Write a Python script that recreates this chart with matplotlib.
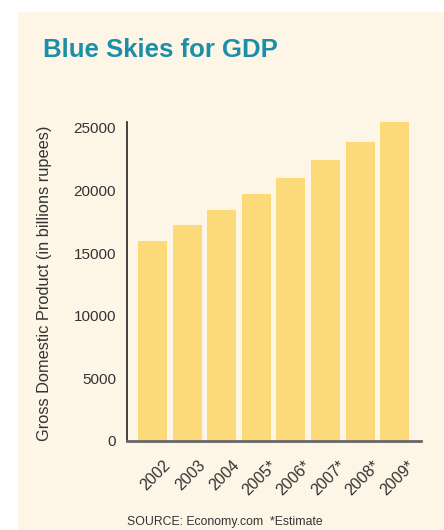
import matplotlib
matplotlib.use('Agg')
import matplotlib.pyplot as plt
from matplotlib.patches import Rectangle
from matplotlib.transforms import ScaledTranslation

plt.rcParams['font.family'] = ['Liberation Sans', 'DejaVu Sans']

# ========== 数据 ==========
years = ['2002', '2003', '2004', '2005*', '2006*', '2007*', '2008*', '2009*']
gdp = [15950, 17250, 18450, 19750, 21000, 22450, 23900, 25450]
yticks = [0, 5000, 10000, 15000, 20000, 25000]
# ==========================

W, H = 444, 530
fig = plt.figure(figsize=(W / 100, H / 100), dpi=100)
fig.patch.set_facecolor('white')

bg = '#FDF6E6'
fig.patches.append(Rectangle((18 / W, 0), 1 - 18 / W, 1 - 12 / H,
                             transform=fig.transFigure, facecolor=bg,
                             edgecolor='none', zorder=-10))

ax = fig.add_axes([127 / W, 1 - 441 / H, (421 - 127) / W, (441 - 121.5) / H])
ax.set_facecolor('none')

x = list(range(len(years)))
ax.bar(x, gdp, width=0.84, color='#FCD979', edgecolor='none')

ax.set_xlim(-0.74, 7.76)
ax.set_ylim(0, 25500)
ax.set_yticks(yticks)
ax.set_yticklabels([str(v) for v in yticks], fontsize=11, color='#333333')
ax.set_xticks(x)
ax.set_xticklabels(years, rotation=45, ha='center', fontsize=11.5, color='#333333')
ax.tick_params(axis='y', length=0, pad=8)
ax.tick_params(axis='x', length=0, pad=12)
shift = ScaledTranslation(3 / 100, 0, fig.dpi_scale_trans)
for lbl in ax.get_xticklabels():
    lbl.set_transform(lbl.get_transform() + shift)

for side in ['top', 'right']:
    ax.spines[side].set_visible(False)
ax.spines['left'].set_color('#222222')
ax.spines['left'].set_linewidth(1.2)
ax.spines['bottom'].set_color('#666666')
ax.spines['bottom'].set_linewidth(2)

fig.text(43 / W, 1 - 57 / H, 'Blue Skies for GDP', fontsize=18.5, fontweight='bold',
         color='#1B8FAA', va='baseline', ha='left')
fig.text(45 / W, 1 - 283 / H, 'Gross Domestic Product (in billions rupees)',
         rotation=90, fontsize=11.8, color='#333333', ha='center', va='center')
fig.text(127 / W, 1 - 522 / H, 'SOURCE: Economy.com  *Estimate', fontsize=8.8,
         color='#333333', ha='left', va='center')

fig.savefig('out.png', dpi=100, facecolor=fig.get_facecolor())
